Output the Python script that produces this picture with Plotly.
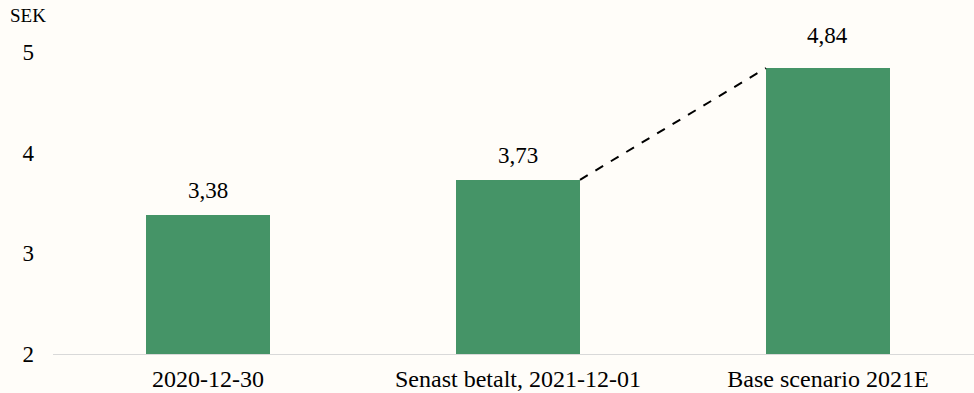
import plotly.graph_objects as go

categories = ["2020-12-30", "Senast betalt, 2021-12-01", "Base scenario 2021E"]
values = [3.38, 3.73, 4.84]
value_labels = ["3,38", "3,73", "4,84"]
y_ticks = [2, 3, 4, 5]

FONT = "Liberation Serif, Times New Roman, serif"
BG = "#FFFDF9"
GREEN = "#459467"
BAR_W = 0.4
LABEL_SHIFTS = [10, 10, 18]  # pixel offsets of value labels above the bars

xi = list(range(len(categories)))

fig = go.Figure()
fig.add_trace(go.Bar(
    x=xi, y=[v - 2 for v in values], base=2, width=BAR_W,
    marker=dict(color=GREEN, line=dict(width=0)),
    hoverinfo="skip", showlegend=False,
))

# dashed connector from bar 2 top-right to bar 3 top-left
fig.add_trace(go.Scatter(
    x=[xi[1] + BAR_W / 2, xi[2] - BAR_W / 2], y=[values[1], values[2]],
    mode="lines", line=dict(color="black", width=2, dash="dash"),
    hoverinfo="skip", showlegend=False,
))

for x, v, t, s in zip(xi, values, value_labels, LABEL_SHIFTS):
    fig.add_annotation(x=x, y=v, text=t, showarrow=False, yanchor="bottom",
                       yshift=s, font=dict(family=FONT, size=23, color="black"))

fig.add_annotation(xref="paper", yref="paper", x=-0.049, y=1.012, text="SEK",
                   showarrow=False, xanchor="left", yanchor="middle",
                   font=dict(family=FONT, size=19, color="black"))

fig.update_layout(
    width=974, height=393,
    margin=dict(l=53, r=0, t=20, b=39),
    paper_bgcolor=BG, plot_bgcolor=BG,
    font=dict(family=FONT, size=23, color="black"),
    bargap=0,
    xaxis=dict(
        range=[-0.5, 2.471], tickmode="array", tickvals=xi, ticktext=categories,
        showgrid=False, zeroline=False, showline=True, linecolor="#D9D9D9",
        linewidth=1, ticks="", ticklabelstandoff=3,
        tickfont=dict(family=FONT, size=24, color="black"),
    ),
    yaxis=dict(
        range=[2, 5.317], tickmode="array", tickvals=y_ticks,
        ticktext=[str(t) for t in y_ticks],
        showgrid=False, zeroline=False, showline=False, ticks="",
        ticklabelstandoff=18,
        tickfont=dict(family=FONT, size=23, color="black"),
    ),
)

fig.write_html("out.html")
